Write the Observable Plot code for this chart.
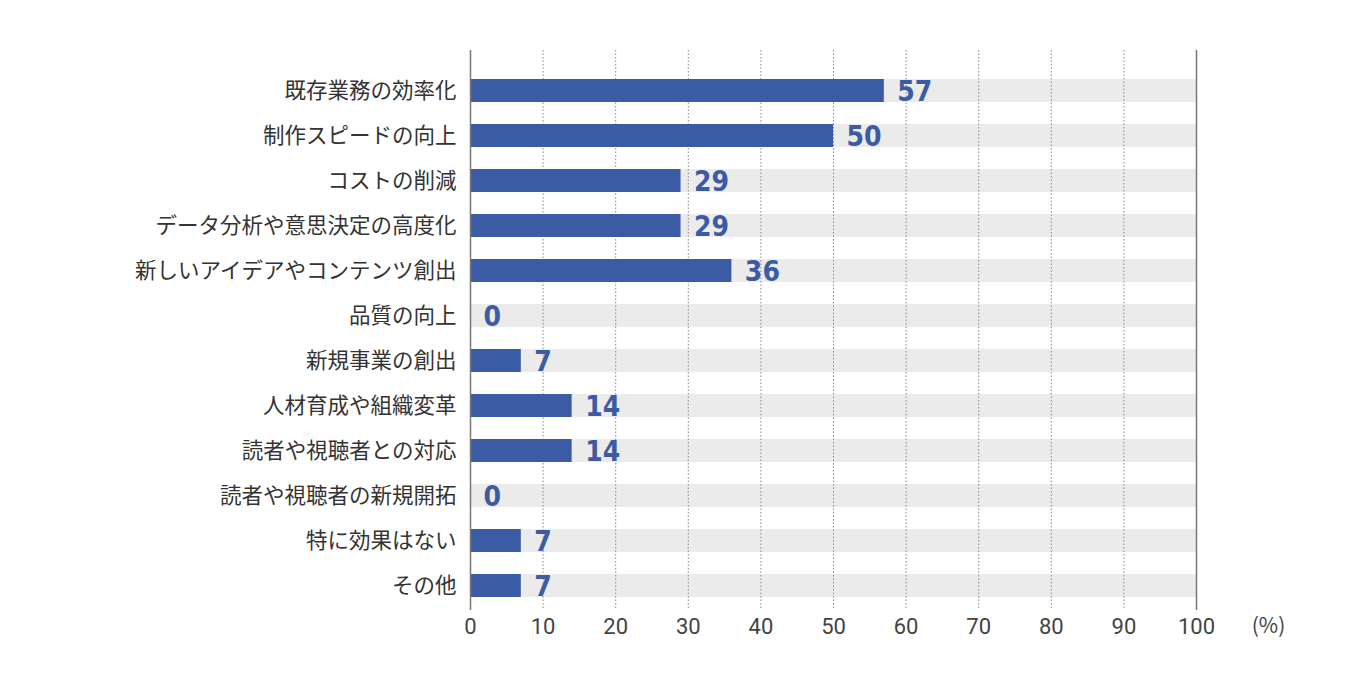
<!DOCTYPE html>
<html><head><meta charset="utf-8">
<script src="https://cdn.jsdelivr.net/npm/d3@7"></script>
<script src="https://cdn.jsdelivr.net/npm/@observablehq/plot@0.6"></script>
<style>
body{margin:0;background:#fff;}
</style>
</head><body><div id="chart"></div>
<script>
const categories = ["既存業務の効率化","制作スピードの向上","コストの削減","データ分析や意思決定の高度化","新しいアイデアやコンテンツ創出","品質の向上","新規事業の創出","人材育成や組織変革","読者や視聴者との対応","読者や視聴者の新規開拓","特に効果はない","その他"];
const values = [57,50,29,29,36,0,7,14,14,0,7,7];
const xTicks = [0,10,20,30,40,50,60,70,80,90,100];
const unitLabel = "(%)";
const data = categories.map((c,i)=>({c, v: values[i]}));

const chart = Plot.plot({
  width: 1346, height: 685,
  marginLeft: 470, marginRight: 150, marginTop: 50, marginBottom: 75,
  style: {fontFamily: "'Noto Sans CJK JP', sans-serif", background: "#fff"},
  x: {domain: [0,100], ticks: xTicks},
  y: {domain: categories, range: [54.5, 621.5], padding: 0.5},
  marks: [
    Plot.barX(data, {y: "c", x1: 0, x2: 100, fill: "#ebebeb"}),
    Plot.ruleX(xTicks.filter(t => t > 0 && t < 100), {stroke: "#888", strokeDasharray: "1.5,2", strokeWidth: 1}),
    Plot.barX(data, {y: "c", x: "v", fill: "#3b5ca5"}),
    Plot.ruleX([0, 100], {stroke: "#777", strokeWidth: 1.5}),
    Plot.text(data, {y: "c", x: "v", text: d => String(d.v), textAnchor: "start", dx: 13, dy: 1,
      fill: "#3b5ca5", fontSize: 28, fontWeight: "bold", fontFamily: "'DejaVu Sans Condensed', 'Roboto', sans-serif"}),
    Plot.axisX({ticks: xTicks, tickSize: 0, tickPadding: 8, fontSize: 22, fontFamily: "Roboto, sans-serif", color: "#444", label: null}),
    Plot.axisY({tickSize: 0, tickPadding: 14, fontSize: 21.5, color: "#333", label: null}),
    Plot.text([unitLabel], {frameAnchor: "bottom-right", dx: 72, dy: 22, fontSize: 21, fill: "#444", textAnchor: "middle"})
  ]
});
document.getElementById("chart").appendChild(chart);
</script>
</body></html>
